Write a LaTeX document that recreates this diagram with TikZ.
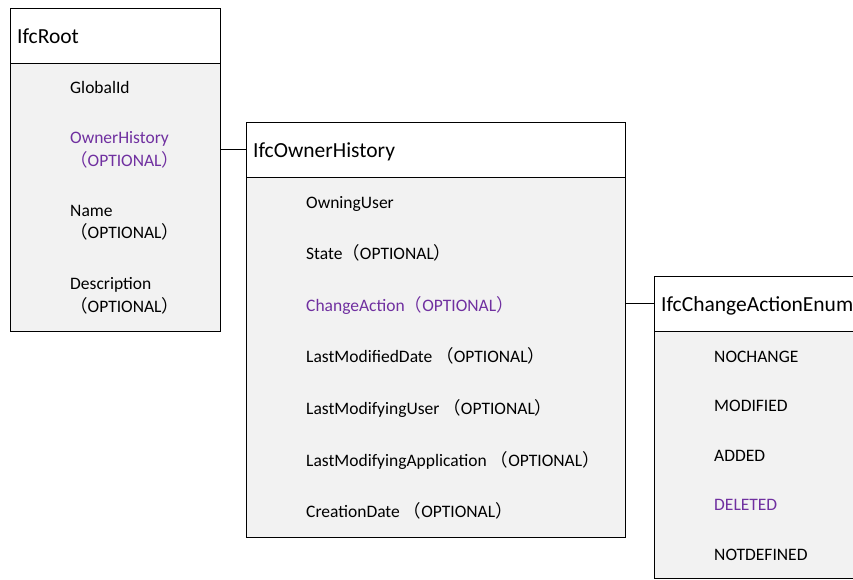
\documentclass[tikz,border=0pt]{standalone}
\usepackage{fontspec}
\setmainfont{Carlito}
\newfontfamily\cjk{Noto Sans CJK SC}
\newcommand{\lpar}{{\cjk （}}
\newcommand{\rpar}{{\cjk ）}}
\definecolor{purp}{HTML}{7030A0}
\definecolor{bodyfill}{HTML}{F2F2F2}
\begin{document}
\begin{tikzpicture}[x=1pt,y=-1pt,
  box/.style={draw=black, line width=1pt, inner sep=0pt, outer sep=0pt, rectangle},
  hdr/.style={box, fill=white},
  bdy/.style={box, fill=bodyfill},
  title/.style={anchor=base west, inner sep=0pt, font=\fontsize{21.5}{25}\selectfont},
  item/.style={anchor=base west, inner sep=0pt, font=\fontsize{17.5}{21}\selectfont},
  hl/.style={text=purp},
  link/.style={draw=black, line width=1pt}]
\useasboundingbox (0,0) rectangle (853,579);
\clip (0,0) rectangle (853,579);
% IfcRoot
\node[bdy, minimum width=210pt, minimum height=268pt] (rootB) at (115,197) {};
\node[hdr, minimum width=210pt, minimum height=55pt] (rootH) at (115,35.5) {};
\node[title] (rootT) at (17,43) {IfcRoot};
\node[item] (r1) at (70,93) {GlobalId};
\node[item, hl] (r2) at (70,143) {OwnerHistory};
\node[item, hl] (r2b) at (70,166) {\lpar OPTIONAL\rpar};
\node[item] (r3) at (70,216) {Name};
\node[item] (r3b) at (70,238) {\lpar OPTIONAL\rpar};
\node[item] (r4) at (70,289) {Description};
\node[item] (r4b) at (70,312) {\lpar OPTIONAL\rpar};
% IfcOwnerHistory
\node[bdy, minimum width=379pt, minimum height=360pt] (ohB) at (435.5,357) {};
\node[hdr, minimum width=379pt, minimum height=55pt] (ohH) at (435.5,149.5) {};
\node[title] (ohT) at (253,157) {IfcOwnerHistory};
\node[item] (o1) at (306,208) {OwningUser};
\node[item] (o2) at (306,259) {State\lpar OPTIONAL\rpar};
\node[item, hl] (o3) at (306,311) {ChangeAction\lpar OPTIONAL\rpar};
\node[item] (o4) at (306,362) {LastModifiedDate \lpar OPTIONAL\rpar};
\node[item] (o5) at (306,414) {LastModifyingUser \lpar OPTIONAL\rpar};
\node[item] (o6) at (306,466) {LastModifyingApplication \lpar OPTIONAL\rpar};
\node[item] (o7) at (306,517) {CreationDate \lpar OPTIONAL\rpar};
% IfcChangeActionEnum
\node[bdy, minimum width=216pt, minimum height=247pt] (enB) at (762,454.5) {};
\node[hdr, minimum width=216pt, minimum height=55pt] (enH) at (762,303.5) {};
\node[title] (enT) at (661,311) {IfcChangeActionEnum};
\node[item] (e1) at (714,362) {NOCHANGE};
\node[item] (e2) at (714,411) {MODIFIED};
\node[item] (e3) at (714,461) {ADDED};
\node[item, hl] (e4) at (714,510) {DELETED};
\node[item] (e5) at (714,560) {NOTDEFINED};
% connectors
\draw[link] (rootB.east |- ohH.west) -- (ohH.west);
\draw[link] (ohB.east |- enH.west) -- (enH.west);
\end{tikzpicture}
\end{document}
